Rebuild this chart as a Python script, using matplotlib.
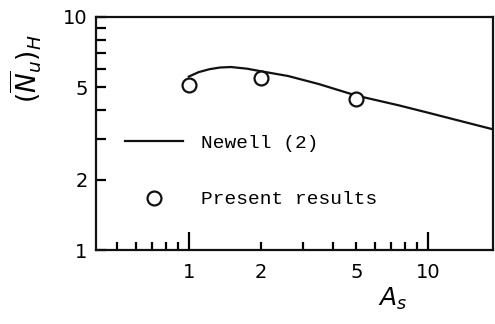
import matplotlib
matplotlib.use("Agg")
import matplotlib.pyplot as plt
from matplotlib.ticker import NullFormatter, FixedLocator

# --- Data ---
# Newell (2) correlation curve
newell_as = [1.0, 1.1, 1.22, 1.35, 1.5, 1.75, 2.0, 2.6, 3.5, 5.0, 7.5, 10.0, 18.5]
newell_nu = [5.55, 5.8, 5.97, 6.07, 6.1, 6.0, 5.85, 5.58, 5.15, 4.6, 4.18, 3.88, 3.3]

# Present results
present_as = [1.0, 2.0, 5.0]
present_nu = [5.1, 5.45, 4.45]

xtick_major = [1, 10]
xtick_minor = [0.5, 0.6, 0.7, 0.8, 0.9, 2, 3, 4, 5, 6, 7, 8, 9]
xtick_minor_labels = ['', '', '', '', '', '2', '', '', '5', '', '', '', '']
ytick_vals = [1, 2, 5, 10]
ytick_minor = [3, 4, 6, 7, 8, 9]

# --- Plotting ---
fig = plt.figure(figsize=(4.95, 3.24), dpi=100)
ax = fig.add_axes([96/495, 1 - 250/324, 397/495, 233/324])

ax.plot(newell_as, newell_nu, color='#111111', lw=1.6, label='Newell (2)', zorder=2)
ax.plot(present_as, present_nu, 'o', ms=10, mfc='white', mec='#111111', mew=1.6,
        label='Present results', zorder=3)

ax.set_xscale('log')
ax.set_yscale('log')
ax.set_xlim(0.41, 18.6)
ax.set_ylim(1, 10)

for s in ax.spines.values():
    s.set_linewidth(1.6)
    s.set_color('#111111')

# x ticks
ax.xaxis.set_major_locator(FixedLocator(xtick_major))
ax.set_xticklabels([str(v) for v in xtick_major])
ax.xaxis.set_minor_locator(FixedLocator(xtick_minor))
ax.set_xticklabels(xtick_minor_labels, minor=True)
ax.tick_params(axis='x', which='major', direction='in', length=13, width=1.6, pad=9,
               labelsize=14, top=False)
ax.tick_params(axis='x', which='minor', direction='in', length=6, width=1.6, pad=9,
               labelsize=14, top=False)

# y ticks
ax.yaxis.set_major_locator(FixedLocator(ytick_vals))
ax.set_yticklabels([str(v) for v in ytick_vals])
ax.yaxis.set_minor_locator(FixedLocator(ytick_minor))
ax.yaxis.set_minor_formatter(NullFormatter())
ax.tick_params(axis='y', which='both', direction='in', length=7, width=1.6, pad=6,
               labelsize=14, right=False)

ax.set_xlabel(r'$A_s$', fontsize=18)
ax.xaxis.set_label_coords(0.746, -0.155)
ax.set_ylabel(r'$(\overline{N}_u)_H$', fontsize=19)
ax.yaxis.set_label_coords(-0.13, 0.78)

ax.legend(loc='upper left', bbox_to_anchor=(0.073, 0.497), frameon=False,
          prop={'family': 'Liberation Mono', 'size': 14},
          handlelength=3.0, handletextpad=0.9, labelspacing=2.0,
          borderpad=0, borderaxespad=0)

fig.savefig('out.png', dpi=100)
